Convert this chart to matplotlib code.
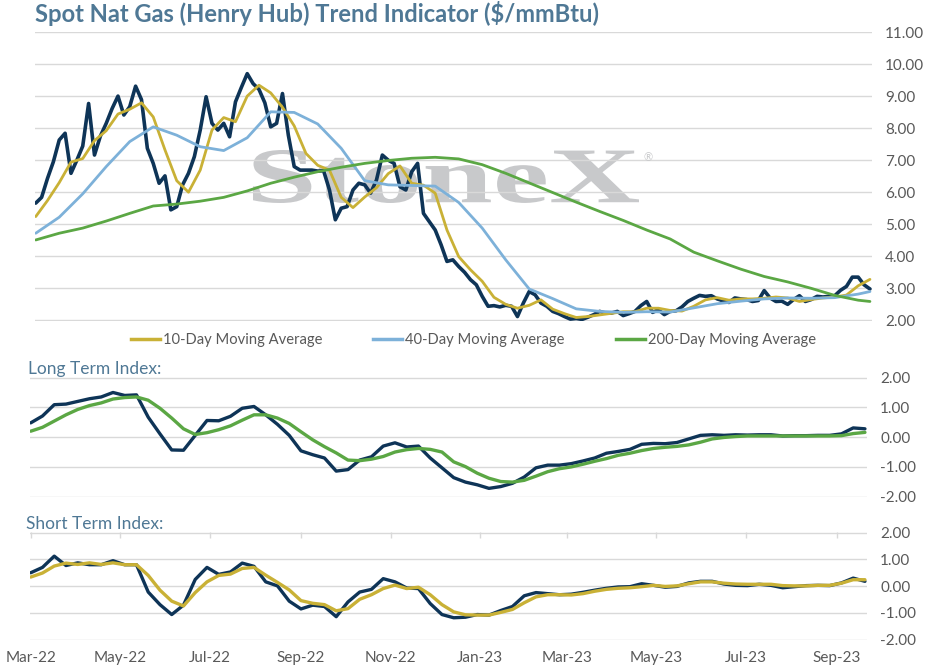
import numpy as np
import pandas as pd
import matplotlib
matplotlib.use('Agg')
import matplotlib.pyplot as plt
import matplotlib.dates as mdates
import matplotlib.ticker as mticker
from matplotlib.lines import Line2D
from matplotlib.textpath import TextPath
from matplotlib.font_manager import FontProperties
from matplotlib.patches import PathPatch
from matplotlib.transforms import Affine2D

plt.rcParams['font.family'] = ['Lato', 'DejaVu Sans']
plt.rcParams['axes.unicode_minus'] = False

# ---------------- data ----------------
START = '2022-03-01'
END = '2023-09-20'

spot_dates = pd.date_range(START, periods=143, freq='4D')
spot = [5.66, 5.84, 6.43, 6.95, 7.63, 7.84, 6.59, 7.00, 7.44, 8.77,
        7.16, 7.75, 8.15, 8.61, 9.00, 8.41, 8.67, 9.31, 8.89, 7.37,
        6.90, 6.28, 6.51, 5.45, 5.55, 6.23, 6.59, 7.11, 7.94, 8.98,
        8.15, 7.94, 8.15, 7.73, 8.82, 9.27, 9.70, 9.39, 9.21, 8.79,
        8.04, 8.15, 9.08, 7.78, 6.80, 6.69, 6.69, 6.69, 6.66, 6.67,
        6.07, 5.14, 5.50, 5.55, 6.07, 6.28, 6.23, 5.97, 6.38, 7.16,
        7.00, 6.90, 6.17, 6.07, 6.64, 6.90, 5.34, 5.08, 4.82, 4.36,
        3.84, 3.89, 3.68, 3.50, 3.27, 3.11, 2.75, 2.44, 2.46, 2.42,
        2.47, 2.44, 2.12, 2.54, 2.90, 2.80, 2.54, 2.44, 2.28, 2.21,
        2.12, 2.04, 2.06, 2.03, 2.10, 2.18, 2.28, 2.23, 2.23, 2.28,
        2.15, 2.21, 2.28, 2.46, 2.59, 2.25, 2.33, 2.18, 2.28, 2.30,
        2.42, 2.59, 2.69, 2.78, 2.75, 2.77, 2.67, 2.61, 2.56, 2.70,
        2.67, 2.65, 2.59, 2.62, 2.93, 2.70, 2.59, 2.60, 2.50, 2.65,
        2.77, 2.59, 2.65, 2.75, 2.73, 2.75, 2.77, 2.94, 3.06, 3.35,
        3.35, 3.11, 2.98]

ma10_dates = pd.date_range(START, periods=72, freq='8D')
ma10 = [5.24, 5.74, 6.30, 6.94, 7.05, 7.61, 7.92, 8.44, 8.59, 8.79,
        8.35, 7.32, 6.36, 6.00, 6.69, 7.94, 8.33, 8.20, 9.00, 9.34,
        9.10, 8.65, 8.07, 7.21, 6.84, 6.69, 5.84, 5.52, 5.85, 6.14,
        6.58, 6.82, 6.28, 6.22, 5.97, 4.82, 3.99, 3.58, 3.22, 2.72,
        2.50, 2.38, 2.47, 2.64, 2.35, 2.21, 2.09, 2.12, 2.17, 2.22,
        2.27, 2.27, 2.38, 2.38, 2.31, 2.29, 2.44, 2.64, 2.71, 2.63,
        2.67, 2.67, 2.69, 2.73, 2.70, 2.59, 2.65, 2.70, 2.73, 2.79,
        3.08, 3.28]

ma_long_dates = pd.date_range(START, periods=36, freq='16D').append(pd.DatetimeIndex([END]))
ma40 = [4.72, 5.22, 5.95, 6.80, 7.58, 8.04, 7.78, 7.42, 7.30, 7.70,
        8.51, 8.49, 8.13, 7.37, 6.36, 6.23, 6.21, 6.19, 5.68, 4.88,
        3.89, 2.98, 2.68, 2.36, 2.28, 2.25, 2.27, 2.26, 2.39, 2.52,
        2.60, 2.67, 2.70, 2.69, 2.71, 2.82, 2.90]
ma200 = [4.51, 4.72, 4.88, 5.10, 5.34, 5.57, 5.63, 5.72, 5.84, 6.04,
         6.28, 6.47, 6.64, 6.78, 6.90, 6.99, 7.06, 7.09, 7.04, 6.86,
         6.59, 6.29, 5.99, 5.69, 5.40, 5.12, 4.82, 4.54, 4.13, 3.86,
         3.60, 3.37, 3.20, 3.00, 2.78, 2.63, 2.59]

idx_dates = pd.date_range(START, periods=72, freq='8D')
lt_index = [0.48, 0.71, 1.09, 1.11, 1.20, 1.29, 1.35, 1.50, 1.40, 1.42,
            0.67, 0.11, -0.43, -0.44, 0.06, 0.56, 0.55, 0.70, 0.97, 1.03,
            0.75, 0.43, 0.06, -0.46, -0.59, -0.70, -1.14, -1.09, -0.77, -0.66,
            -0.30, -0.19, -0.33, -0.30, -0.70, -1.03, -1.36, -1.51, -1.60, -1.72,
            -1.66, -1.55, -1.34, -1.03, -0.94, -0.94, -0.89, -0.80, -0.70, -0.54,
            -0.48, -0.41, -0.24, -0.21, -0.22, -0.18, -0.06, 0.06, 0.08, 0.06,
            0.08, 0.07, 0.08, 0.08, 0.04, 0.05, 0.05, 0.06, 0.06, 0.11,
            0.31, 0.28]
lt_signal = [0.20, 0.33, 0.54, 0.75, 0.93, 1.06, 1.15, 1.28, 1.33, 1.35,
             1.24, 0.97, 0.64, 0.28, 0.09, 0.15, 0.25, 0.38, 0.57, 0.75,
             0.75, 0.64, 0.46, 0.18, -0.09, -0.32, -0.53, -0.77, -0.79, -0.74,
             -0.65, -0.50, -0.42, -0.38, -0.41, -0.50, -0.83, -0.99, -1.21, -1.38,
             -1.49, -1.51, -1.45, -1.31, -1.16, -1.06, -1.00, -0.91, -0.81, -0.72,
             -0.61, -0.54, -0.45, -0.38, -0.34, -0.31, -0.26, -0.17, -0.06, -0.01,
             0.02, 0.04, 0.04, 0.04, 0.04, 0.04, 0.04, 0.04, 0.04, 0.05,
             0.12, 0.16]
st_index = [0.50, 0.70, 1.12, 0.77, 0.87, 0.80, 0.80, 0.95, 0.80, 0.80,
            -0.22, -0.69, -1.06, -0.71, 0.25, 0.70, 0.44, 0.53, 0.86, 0.74,
            0.16, 0.01, -0.56, -0.85, -0.71, -0.76, -1.14, -0.59, -0.22, -0.12,
            0.28, 0.16, -0.07, -0.09, -0.65, -1.06, -1.18, -1.16, -1.06, -1.08,
            -0.91, -0.76, -0.36, -0.24, -0.28, -0.32, -0.30, -0.23, -0.15, -0.08,
            -0.03, -0.02, 0.09, 0.03, -0.04, -0.01, 0.12, 0.18, 0.18, 0.08,
            0.03, 0.02, 0.07, 0.03, -0.06, -0.02, 0.02, 0.03, 0.02, 0.12,
            0.30, 0.18]
st_signal = [0.34, 0.49, 0.75, 0.86, 0.81, 0.87, 0.81, 0.87, 0.80, 0.80,
             0.40, -0.15, -0.56, -0.74, -0.24, 0.16, 0.40, 0.45, 0.66, 0.70,
             0.41, 0.14, -0.14, -0.54, -0.64, -0.69, -0.92, -0.84, -0.49, -0.32,
             -0.09, 0.04, -0.09, -0.04, -0.32, -0.69, -0.96, -1.07, -1.08, -1.08,
             -0.98, -0.87, -0.62, -0.40, -0.32, -0.32, -0.33, -0.28, -0.19, -0.12,
             -0.08, -0.06, -0.02, 0.03, -0.01, 0.01, 0.09, 0.16, 0.16, 0.11,
             0.08, 0.07, 0.07, 0.07, 0.02, 0.01, 0.01, 0.03, 0.03, 0.11,
             0.24, 0.24]

price_ticks = [2, 3, 4, 5, 6, 7, 8, 9, 10, 11]
index_ticks = [-2, -1, 0, 1, 2]
month_ticks = pd.date_range('2022-03-01', '2023-09-01', freq='2MS')
legend_labels = ['10-Day Moving Average', '40-Day Moving Average', '200-Day Moving Average']

# ---------------- style ----------------
NAVY = '#0e3457'
GOLD = '#c9b136'
LBLUE = '#7db1d9'
GREEN = '#5ba744'
GRID = '#d9d9d9'
LABEL = '#595959'
TITLE = '#4f7895'
WM = '#c8c9cb'

W, H = 928, 671
fig = plt.figure(figsize=(W / 100, H / 100), dpi=100)


def rect(x0, x1, ytop, ybot):
    return [x0 / W, 1 - ybot / H, (x1 - x0) / W, (ybot - ytop) / H]


ax1 = fig.add_axes(rect(35, 872, 31.7, 320.7))
ax2 = fig.add_axes(rect(30, 867, 377.3, 497))
ax3 = fig.add_axes(rect(30, 867, 532.3, 640))

t0 = pd.Timestamp(START) - pd.Timedelta(hours=12)
t1 = pd.Timestamp(START) + pd.Timedelta(days=569.4)

for ax in (ax1, ax2, ax3):
    for s in ax.spines.values():
        s.set_visible(False)
    ax.set_axisbelow(True)
    ax.grid(axis='y', color=GRID, lw=1.0)
    ax.yaxis.tick_right()
    ax.tick_params(axis='y', length=0, pad=9.4, labelsize=11, labelcolor=LABEL)
    ax.yaxis.set_major_formatter(mticker.FormatStrFormatter('%.2f'))
    ax.set_xlim(t0, t1)

ax1.set_yticks(price_ticks)
ax1.set_ylim(1.99, 11.01)
ax2.set_yticks(index_ticks)
ax2.set_ylim(-2.01, 2.01)
ax3.set_yticks(index_ticks)
ax3.set_ylim(-2.01, 2.01)
ax1.set_xticks([])
ax2.set_xticks([])
ax3.set_xticks(month_ticks)
ax3.xaxis.set_major_formatter(mdates.DateFormatter('%b-%y'))
ax3.tick_params(axis='x', bottom=False, top=True, direction='in', length=4,
                color=GRID, width=1, labelbottom=True, labeltop=False,
                pad=8, labelsize=11, labelcolor=LABEL)

# watermark
fp = FontProperties(family='Liberation Serif', weight='bold')
tp = TextPath((0, 0), 'StoneX', size=100, prop=fp)
bb = tp.get_extents()
X0, X1 = 253 / W, 639 / W
Y0, Y1 = 1 - 203 / H, 1 - 150 / H
tr = (Affine2D().translate(-bb.x0, -bb.y0)
      .scale((X1 - X0) / bb.width, (Y1 - Y0) / bb.height)
      .translate(X0, Y0) + fig.transFigure)
wm = PathPatch(tp, transform=tr, facecolor=WM, edgecolor='none', zorder=0.2)
ax1.add_artist(wm)
fig.text(648 / W, 1 - 158 / H, '\u00ae', fontsize=8, color=WM, ha='center', va='center')

# lines
kw = dict(solid_joinstyle='round', solid_capstyle='round')
ax1.plot(spot_dates, spot, color=NAVY, lw=2.6, zorder=2, **kw)
ax1.plot(ma10_dates, ma10, color=GOLD, lw=2.0, zorder=3, **kw)
ax1.plot(ma_long_dates, ma40, color=LBLUE, lw=2.0, zorder=3, **kw)
ax1.plot(ma_long_dates, ma200, color=GREEN, lw=2.0, zorder=3, **kw)

ax2.plot(idx_dates, lt_index, color=NAVY, lw=2.4, zorder=2, **kw)
ax2.plot(idx_dates, lt_signal, color=GREEN, lw=2.4, zorder=3, **kw)

ax3.plot(idx_dates, st_index, color=NAVY, lw=2.4, zorder=2, **kw)
ax3.plot(idx_dates, st_signal, color=GOLD, lw=2.4, zorder=3, **kw)

# titles
fig.text(35 / W, 1 - 21.7 / H, 'Spot Nat Gas (Henry Hub) Trend Indicator ($/mmBtu)',
         fontsize=17.1, fontweight='bold', color=TITLE, ha='left', va='baseline')
fig.text(28 / W, 1 - 374.3 / H, 'Long Term Index:', fontsize=12.5,
         color=TITLE, ha='left', va='baseline')
fig.text(26 / W, 1 - 529 / H, 'Short Term Index:', fontsize=12.5,
         color=TITLE, ha='left', va='baseline')

# legend
leg_colors = [GOLD, LBLUE, GREEN]
leg_x = [131, 373, 616]
for x, c, lab in zip(leg_x, leg_colors, legend_labels):
    fig.add_artist(Line2D([x / W, (x + 29) / W], [1 - 339 / H, 1 - 339 / H],
                          transform=fig.transFigure, color=c, lw=2.5))
    fig.text((x + 32) / W, 1 - 340 / H, lab, fontsize=10.6, color=LABEL,
             ha='left', va='center')

fig.savefig('out.png', dpi=100)
